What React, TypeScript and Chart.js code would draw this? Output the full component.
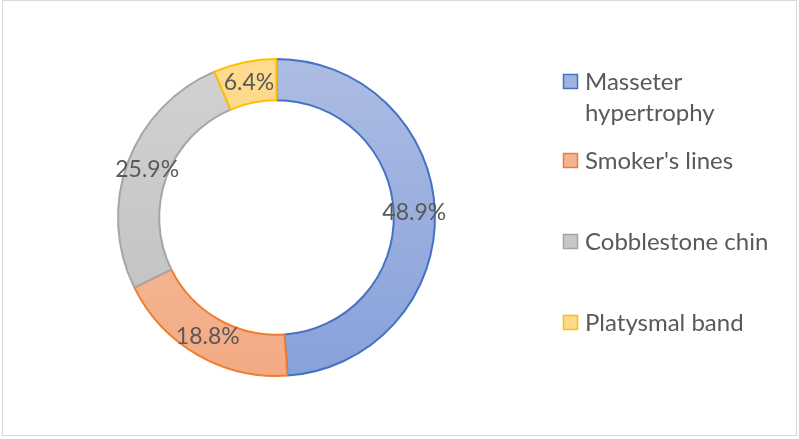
import React, { useEffect, useRef } from 'react';
import { Chart, registerables } from 'chart.js';

Chart.register(...registerables);

const categories = ['Masseter hypertrophy', "Smoker's lines", 'Cobblestone chin', 'Platysmal band'];
const legendLines = [['Masseter', 'hypertrophy'], ["Smoker's lines"], ['Cobblestone chin'], ['Platysmal band']];
const values = [48.9, 18.8, 25.9, 6.4];
const borderColors = ['#4472c4', '#ed7d31', '#a5a5a5', '#ffc000'];
const fillTop = ['#adbce3', '#f8c6a9', '#d2d2d2', '#ffdb90'];
const fillBottom = ['#87a1da', '#f2aa84', '#bfbfbf', '#ffd27a'];
const legendSwatch = ['#9fb2e0', '#f5b493', '#c8c8c8', '#ffd98a'];

const LABEL_FONT = '23px Lato, "Open Sans", sans-serif';
const LEGEND_FONT = '24px Lato, "Open Sans", sans-serif';
const TEXT_COLOR = '#595959';

const labelPlugin = {
  id: 'ringLabels',
  afterDatasetsDraw(chart: any) {
    const ctx = chart.ctx;
    const meta = chart.getDatasetMeta(0);
    ctx.save();
    ctx.font = LABEL_FONT;
    ctx.fillStyle = TEXT_COLOR;
    ctx.textAlign = 'center';
    ctx.textBaseline = 'middle';
    meta.data.forEach((arc: any, i: number) => {
      const p = arc.getProps(['x', 'y', 'startAngle', 'endAngle', 'innerRadius', 'outerRadius'], true);
      const a = (p.startAngle + p.endAngle) / 2;
      const r = (p.innerRadius + p.outerRadius) / 2;
      ctx.fillText(values[i].toFixed(1) + '%', p.x + Math.cos(a) * r, p.y + Math.sin(a) * r);
    });
    ctx.restore();
  },
};

const legendItemY = [82, 161, 242, 323];
const legendLineHeight = 31;

const legendPlugin = {
  id: 'sideLegend',
  afterDraw(chart: any) {
    const ctx = chart.ctx;
    ctx.save();
    ctx.font = LEGEND_FONT;
    ctx.textBaseline = 'middle';
    ctx.textAlign = 'left';
    categories.forEach((_, i) => {
      const y = legendItemY[i];
      ctx.fillStyle = legendSwatch[i];
      ctx.fillRect(563.5, y - 7.5, 14, 14);
      ctx.strokeStyle = borderColors[i];
      ctx.lineWidth = 1.5;
      ctx.strokeRect(563.5, y - 7.5, 14, 14);
      ctx.fillStyle = TEXT_COLOR;
      legendLines[i].forEach((line, j) => {
        ctx.fillText(line, 585, y + j * legendLineHeight);
      });
    });
    ctx.restore();
  },
};

export default function App() {
  const ref = useRef<HTMLCanvasElement>(null);
  useEffect(() => {
    document.body.style.margin = '0';
    const canvas = ref.current;
    if (!canvas) return;
    const chart = new Chart(canvas, {
      type: 'doughnut',
      data: {
        labels: categories,
        datasets: [
          {
            data: values,
            backgroundColor: (c: any) => {
              const i = c.dataIndex;
              const area = c.chart.chartArea;
              if (!area) return fillTop[i];
              const g = c.chart.ctx.createLinearGradient(0, area.top, 0, area.bottom);
              g.addColorStop(0, fillTop[i]);
              g.addColorStop(1, fillBottom[i]);
              return g;
            },
            borderColor: borderColors,
            borderWidth: 2,
            hoverOffset: 0,
          },
        ],
      },
      options: {
        responsive: false,
        animation: false,
        cutout: '74%',
        layout: { padding: { left: 117, top: 58, right: 363, bottom: 62 } },
        plugins: {
          legend: { display: false },
          tooltip: { enabled: false },
        },
        events: [],
      },
      plugins: [labelPlugin, legendPlugin],
    });
    return () => chart.destroy();
  }, []);

  return (
    <div style={{ position: 'relative', width: 799, height: 439, background: '#fff' }}>
      <canvas ref={ref} width={799} height={439} style={{ position: 'absolute', left: 0, top: 0 }} />
      <div
        style={{
          position: 'absolute',
          left: 2,
          top: 0,
          width: 795,
          height: 436,
          border: '1px solid #d9d9d9',
          boxSizing: 'border-box',
          pointerEvents: 'none',
        }}
      />
    </div>
  );
}
